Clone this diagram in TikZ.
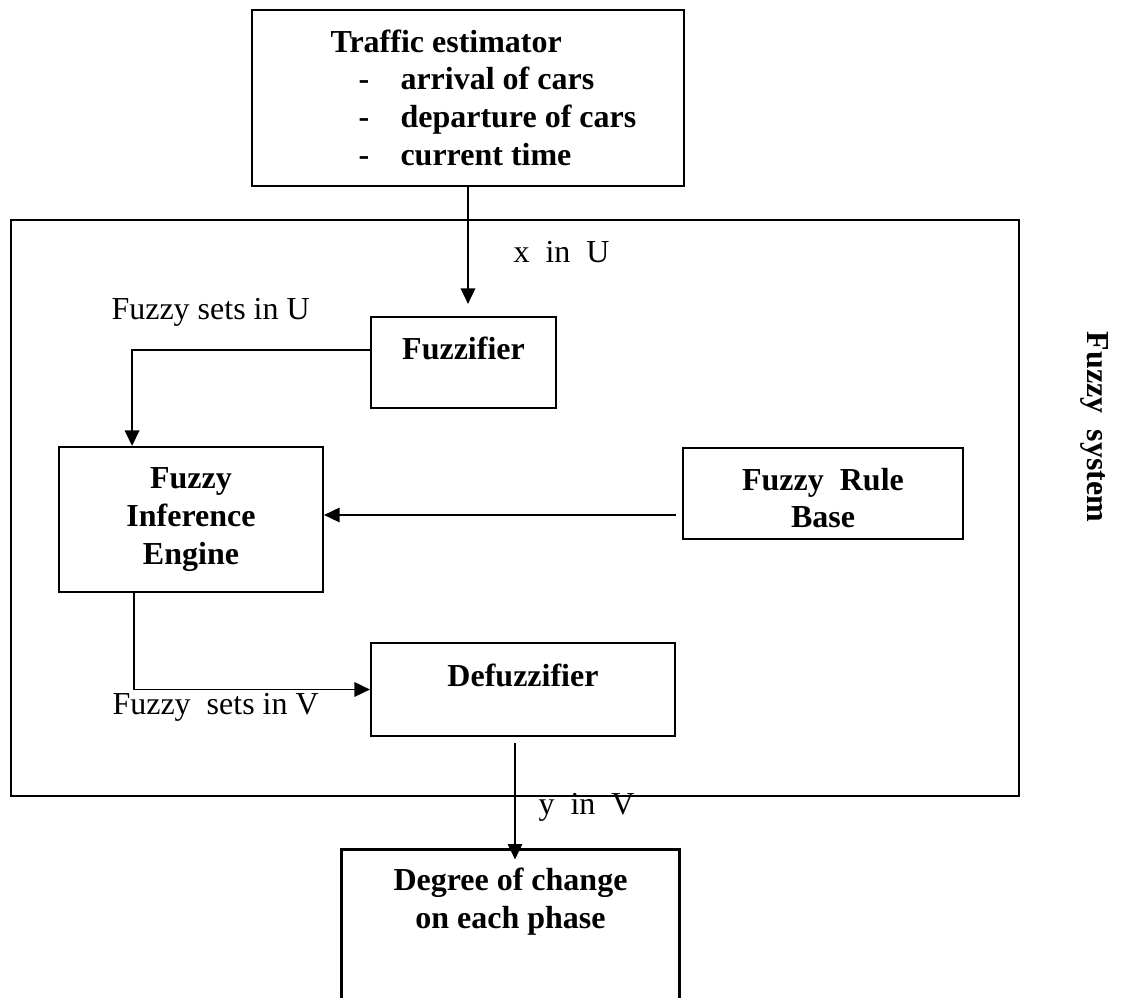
\documentclass[tikz,border=0pt]{standalone}
\usepackage{fontspec}
\setmainfont{Liberation Serif}
\usetikzlibrary{arrows.meta}
\newcommand\estItem[1]{\makebox[26.25pt][l]{\hspace*{10.5pt}-}\textbf{#1}}
\begin{document}
\begin{tikzpicture}[
  x=0.375pt, y=-0.375pt,
  every node/.style={font=\fontsize{12pt}{13.9pt}\selectfont},
  fuzzy box/.style={draw, line width=0.8pt, inner sep=0pt},
  box label/.style={font=\fontsize{12pt}{14.2pt}\selectfont\bfseries, align=center, inner sep=0pt},
  plain label/.style={anchor=west, inner sep=0pt},
  flow arrow/.style={line width=0.7pt, -{Triangle[length=5.8pt,width=5.4pt]}}
]
\useasboundingbox (0,0) rectangle (1122,998);
\node[fuzzy box, minimum width=162pt, minimum height=66pt] (trafficEstimator) at (468,98) {};
\node[box label, align=left, anchor=north west] (estimatorText) at (330,29) {%
  \textbf{Traffic estimator}\\
  \estItem{arrival of cars}\\
  \estItem{departure of cars}\\
  \estItem{current time}};
\node[fuzzy box, minimum width=378pt, minimum height=216pt] (fuzzySystemBox) at (515,508) {};
\node[fuzzy box, minimum width=69.375pt, minimum height=34.125pt] (fuzzifier) at (463.5,362.5) {};
\node[box label] (fuzzifierText) at (463.5,348) {Fuzzifier};
\node[fuzzy box, box label, minimum width=99pt, minimum height=54.375pt] (inferenceEngine) at (191,519.5) {Fuzzy\\Inference\\Engine};
\node[fuzzy box, minimum width=105pt, minimum height=34.125pt] (ruleBase) at (823,493.5) {};
\node[box label] (ruleBaseText) at (823,498) {Fuzzy\ \ Rule\\Base};
\node[fuzzy box, minimum width=114pt, minimum height=34.875pt] (defuzzifier) at (523,689.5) {};
\node[box label] (defuzzifierText) at (523,675) {Defuzzifier};
\node[minimum width=126.375pt, minimum height=55.5pt, inner sep=0pt] (degreeOfChange) at (510.5,924) {};
\draw[line width=0.8pt] (degreeOfChange.south west) |- (degreeOfChange.north east) -- (degreeOfChange.south east);
\node[box label] (degreeText) at (510.5,902) {Degree of change\\on each phase};

\node[plain label] (xInU) at (513,252) {x\ \ in\ \ U};
\node[plain label] (setsInU) at (111,312) {Fuzzy sets in U};
\node[plain label] (setsInV) at (112,707) {Fuzzy\ \ sets in V};
\node[plain label] (yInV) at (538,807) {y\ \ in\ \ V};
\node[box label, rotate=-90] (fuzzySystem) at (1095,427) {Fuzzy\ \ system};

\coordinate (ruleOut) at ([yshift=-8.06pt]ruleBase.west);
\coordinate (defuzOut) at ([xshift=-3pt]defuzzifier.south);
\draw[flow arrow, shorten >=4.5pt] (trafficEstimator.south) -- (trafficEstimator.south |- fuzzifier.north);
\draw[flow arrow] ([yshift=4.7pt]fuzzifier.west) -| ([xshift=-22.1pt]inferenceEngine.north);
\draw[flow arrow, shorten <=2.25pt] (ruleOut) -- (ruleOut -| inferenceEngine.east);
\draw[flow arrow] ([xshift=-21.4pt]inferenceEngine.south) |- (defuzzifier.west);
\draw[flow arrow, shorten <=2.25pt, shorten >=-3.75pt] (defuzOut) -- (defuzOut |- degreeOfChange.north);
\end{tikzpicture}
\end{document}
